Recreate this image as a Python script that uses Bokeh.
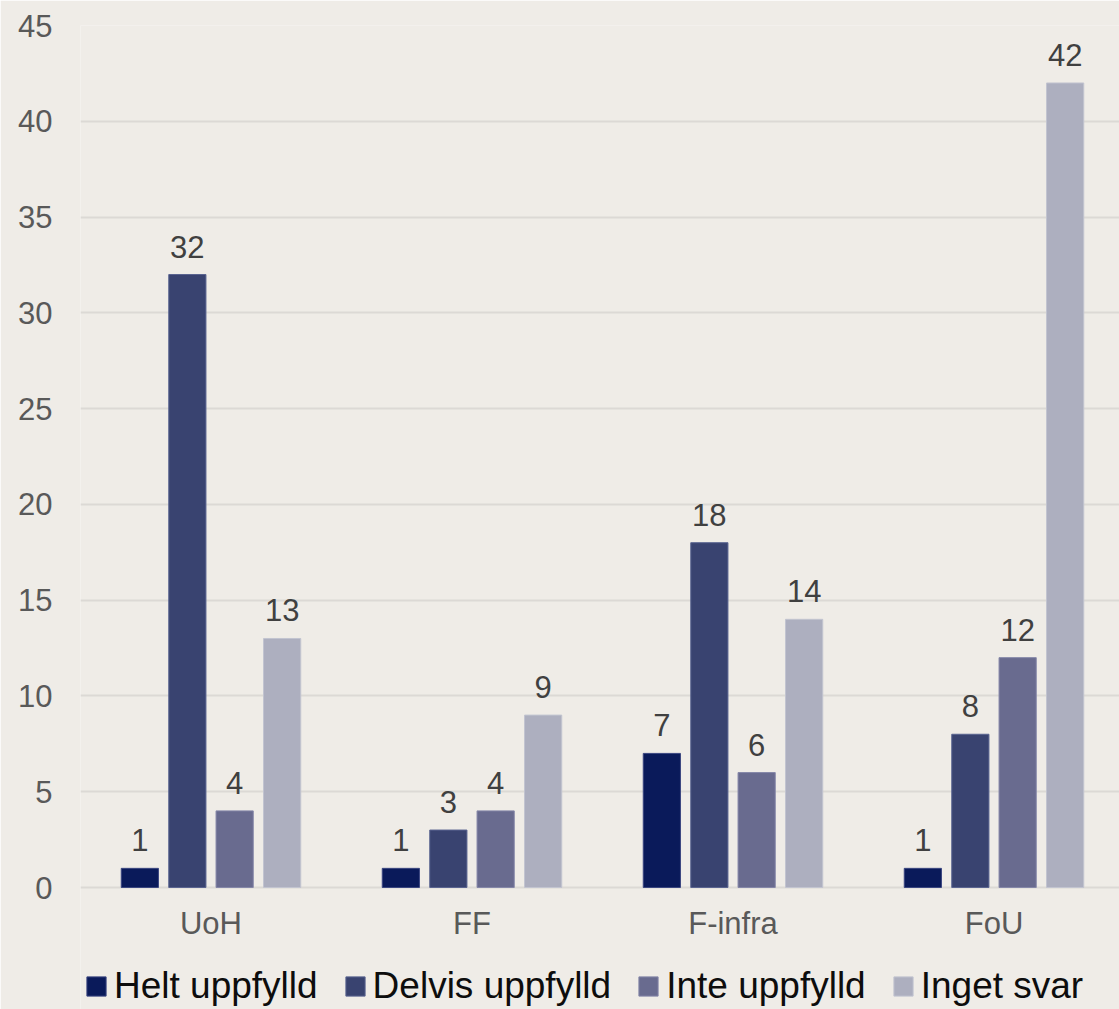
from bokeh.plotting import figure
from bokeh.models import (ColumnDataSource, Range1d, FixedTicker, Legend, LegendItem,
                          LabelSet)
from bokeh.core.properties import value
from bokeh.embed import file_html
from bokeh.resources import INLINE

categories = ["UoH", "FF", "F-infra", "FoU"]
series_names = ["Helt uppfylld", "Delvis uppfylld", "Inte uppfylld", "Inget svar"]
helt = [1, 1, 7, 1]
delvis = [32, 3, 18, 8]
inte = [4, 4, 6, 12]
inget = [13, 9, 14, 42]
y_ticks = [0, 5, 10, 15, 20, 25, 30, 35, 40, 45]

colors = ["#0A1A5A", "#394370", "#696B8F", "#ADAFBF"]
outline = ["#3A4680", "#5A6490", "#8587A8", "#C2C4D0"]
offsets = [-0.2726, -0.0906, 0.0906, 0.2726]
bar_w = 0.1425

BG = "#EFECE7"
FONT = "Liberation Sans"

# frame spans from the top margin to the page bottom; 0 sits 122 px above the bottom
px_per_unit = 862 / 45.0
y_start = -122 / px_per_unit

p = figure(width=1119, height=1009, output_backend="svg", toolbar_location=None,
           x_range=Range1d(0, 1039 / 261.0), y_range=Range1d(y_start, 45),
           min_border_left=80, min_border_right=0, min_border_top=25, min_border_bottom=0)
p.background_fill_color = BG
p.border_fill_color = BG
p.outline_line_color = None

centers = [i + 0.5 for i in range(len(categories))]
renderers = []
for vals, col, oc, off in zip([helt, delvis, inte, inget], colors, outline, offsets):
    xs = [c + off for c in centers]
    src = ColumnDataSource(dict(x=xs, top=vals, lab=[str(v) for v in vals]))
    r = p.vbar(x="x", top="top", bottom=0, width=bar_w, source=src,
               fill_color=col, line_color=oc, line_width=1)
    renderers.append(r)
    labels = LabelSet(x="x", y="top", text="lab", source=src, y_offset=17,
                      text_align="center", text_baseline="alphabetic",
                      text_font=value(FONT), text_font_size=value("31px"),
                      text_color="#404040")
    p.add_layout(labels)

# axes
p.xaxis.ticker = FixedTicker(ticks=centers)
p.xaxis.major_label_overrides = {c: n for c, n in zip(centers, categories)}
p.xaxis.fixed_location = 0
p.yaxis.ticker = FixedTicker(ticks=y_ticks)
for ax in (p.xaxis, p.yaxis):
    ax.axis_line_color = None
    ax.major_tick_line_color = None
    ax.minor_tick_line_color = None
    ax.major_tick_out = 0
    ax.major_tick_in = 0
    ax.minor_tick_out = 0
    ax.major_label_text_font = FONT
    ax.major_label_text_font_size = "31px"
    ax.major_label_text_color = "#595959"
p.yaxis.major_label_standoff = 28
p.xaxis.major_label_standoff = 18

p.xgrid.visible = False
p.ygrid.grid_line_color = "#DCD9D5"
p.ygrid.grid_line_width = 2

legend = Legend(items=[LegendItem(label=n, renderers=[r]) for n, r in zip(series_names, renderers)],
                orientation="horizontal", location=(4, 2),
                glyph_width=24, glyph_height=24, label_standoff=6, spacing=25,
                label_text_font=FONT, label_text_font_size="37px", label_text_color="#0D0D0D",
                label_height=40, padding=0, margin=0,
                background_fill_alpha=0, border_line_color=None)
p.add_layout(legend, "center")

open("out.html", "w").write(file_html(p, INLINE))
